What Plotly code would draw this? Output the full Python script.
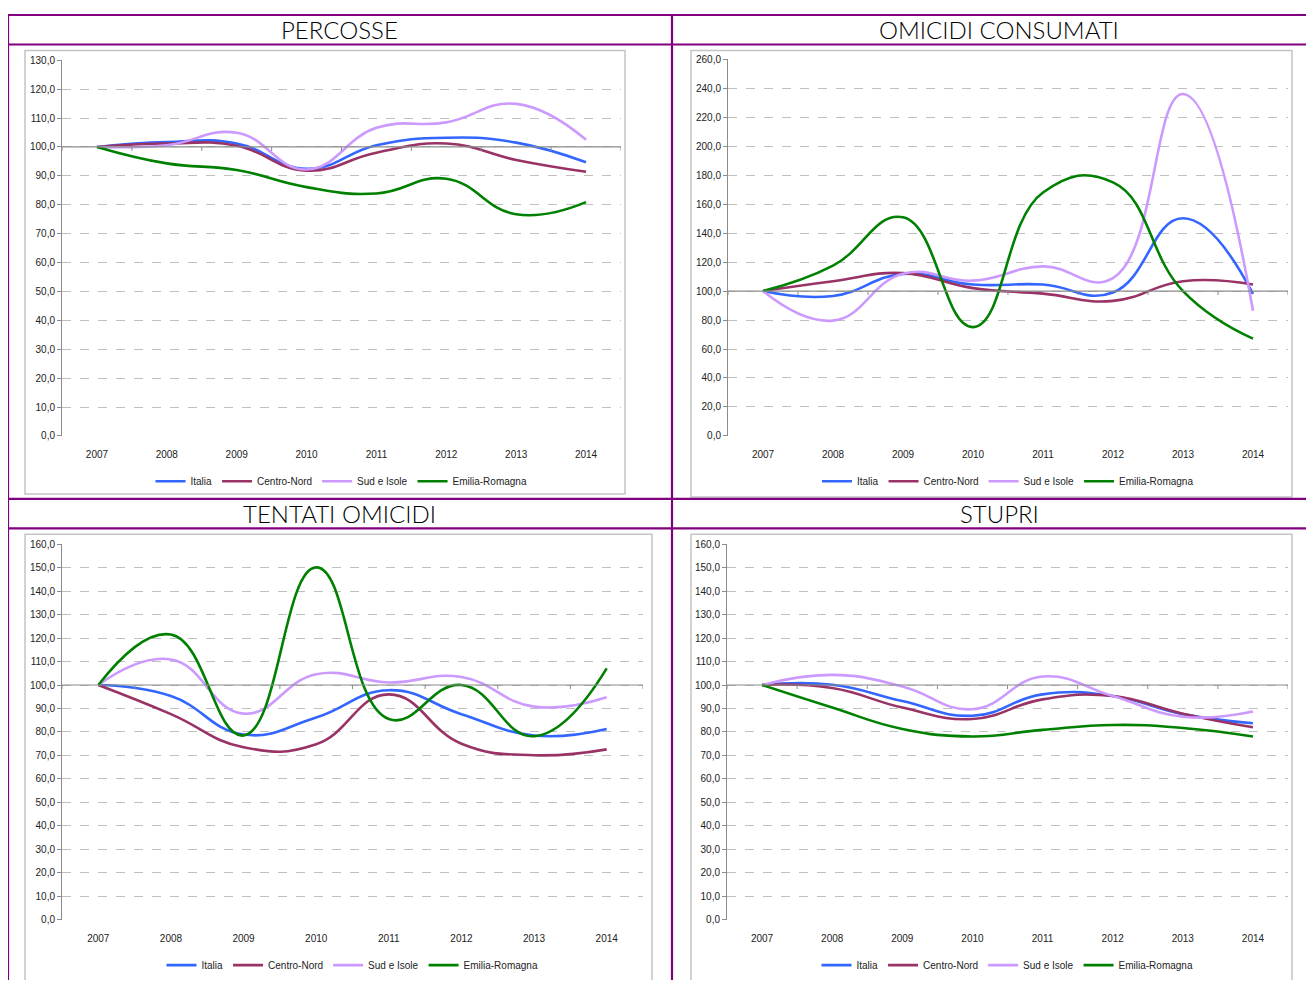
import plotly.graph_objects as go

# ---------------- data ----------------
years = ["2007", "2008", "2009", "2010", "2011", "2012", "2013", "2014"]
series_names = ["Italia", "Centro-Nord", "Sud e Isole", "Emilia-Romagna"]

percosse_italia = [100.0, 101.7, 101.2, 92.4, 100.6, 103.2, 101.5, 94.7]
percosse_centro_nord = [100.0, 101.2, 100.4, 91.8, 98.0, 101.2, 95.5, 91.4]
percosse_sud_isole = [100.0, 100.6, 104.9, 92.2, 106.6, 108.5, 114.9, 102.5]
percosse_emilia = [100.0, 94.3, 92.0, 86.1, 83.9, 89.0, 76.7, 80.9]

omicidi_italia = [100.0, 96.6, 111.8, 104.5, 104.5, 99.0, 150.2, 98.0]
omicidi_centro_nord = [100.0, 106.8, 112.4, 102.0, 98.2, 93.2, 106.8, 104.5]
omicidi_sud_isole = [100.0, 79.6, 112.0, 107.2, 117.0, 109.0, 236.0, 86.4]
omicidi_emilia = [100.0, 117.5, 150.9, 75.1, 168.0, 175.0, 100.0, 67.2]

tentati_italia = [100.0, 95.3, 78.9, 86.2, 97.8, 87.6, 78.5, 81.3]
tentati_centro_nord = [100.0, 87.6, 73.5, 74.8, 96.0, 75.0, 70.1, 72.6]
tentati_sud_isole = [100.0, 110.9, 87.8, 104.6, 101.1, 103.4, 90.8, 94.8]
tentati_emilia = [100.0, 121.5, 78.5, 150.1, 85.5, 100.0, 78.2, 107.1]

stupri_italia = [100.0, 100.1, 93.2, 86.9, 96.0, 95.3, 87.6, 83.7]
stupri_centro_nord = [100.0, 98.7, 90.4, 85.5, 93.9, 95.3, 87.8, 82.0]
stupri_sud_isole = [100.0, 104.3, 99.4, 89.7, 103.6, 95.3, 86.5, 88.7]
stupri_emilia = [100.0, 90.4, 81.3, 78.1, 80.9, 83.0, 81.7, 78.1]

titles = ["PERCOSSE", "OMICIDI CONSUMATI", "TENTATI OMICIDI", "STUPRI"]
y_max = [130, 260, 160, 160]
y_step = [10, 20, 10, 10]
base_value = 100

# ---------------- styles / layout ----------------
colors = ["#3366FF", "#993366", "#CC99FF", "#008000"]
PAGE_MARGIN = 8                       # default body margin of the html page
W, H = 1314 - 2 * PAGE_MARGIN, 988 - 2 * PAGE_MARGIN
PURPLE = "#800080"
AXIS_GREY = "#8C8C8C"
GRID_GREY = "#C0C0C0"
BOX_GREY = "#C4C4C4"
FONT = "Liberation Sans, Arial, sans-serif"


def px(x):
    return (x - PAGE_MARGIN) / W


def py(y):
    return 1 - (y - PAGE_MARGIN) / H


panel_data = [
    [percosse_italia, percosse_centro_nord, percosse_sud_isole, percosse_emilia],
    [omicidi_italia, omicidi_centro_nord, omicidi_sud_isole, omicidi_emilia],
    [tentati_italia, tentati_centro_nord, tentati_sud_isole, tentati_emilia],
    [stupri_italia, stupri_centro_nord, stupri_sud_isole, stupri_emilia],
]

# pixel geometry (page coordinates): plot area (x0, x1, ytop, ybottom), grey box, title centre, legend y
plot_px = [(62, 621, 55, 437), (728, 1288, 54, 437), (62, 643, 547, 929), (727, 1288, 547, 929)]
box_px = [(25, 625, 45, 496), (691, 1292, 45, 499), (25, 652, 537, 1000), (691, 1292, 537, 1000)]
title_px = [(339.5, 24), (999, 24), (339.5, 516), (999, 516)]
legend_py = [483, 483, 975, 975]

fig = go.Figure()
shapes = []
annotations = []
layout_extra = {}

xi = list(range(len(years)))

for p in range(4):
    ax = "" if p == 0 else str(p + 1)
    xa, ya = "x" + ax, "y" + ax
    leg = "legend" if p == 0 else "legend" + str(p + 1)
    for s in range(4):
        fig.add_trace(go.Scatter(
            x=xi, y=panel_data[p][s], mode="lines", name=series_names[s],
            line=dict(color=colors[s], width=2.6, shape="spline", smoothing=1.3),
            xaxis=xa, yaxis=ya, legend=leg, hoverinfo="skip",
        ))
    x0, x1, yt, yb = plot_px[p]
    layout_extra["xaxis" + ax] = dict(
        domain=[px(x0), px(x1)], anchor=ya, range=[-0.5, len(years) - 0.5],
        tickmode="array", tickvals=xi, ticktext=years,
        showgrid=False, zeroline=False, showline=False,
        ticks="outside", ticklen=9, tickcolor="rgba(0,0,0,0)",
        tickfont=dict(family=FONT, size=10, color="#222222"),
    )
    layout_extra["yaxis" + ax] = dict(
        domain=[py(yb), py(yt)], anchor=xa, range=[0, y_max[p]],
        tickmode="linear", tick0=0, dtick=y_step[p], tickformat=".1f",
        showgrid=True, gridcolor=GRID_GREY, griddash="dash", gridwidth=1,
        zeroline=False, showline=True, linecolor=AXIS_GREY, linewidth=1,
        ticks="outside", ticklen=4, tickcolor=AXIS_GREY,
        tickfont=dict(family=FONT, size=10, color="#222222"),
    )
    # category axis line crossing at the base value, with boundary ticks
    shapes.append(dict(type="line", xref=xa + " domain", yref=ya, x0=0, x1=1,
                       y0=base_value, y1=base_value, line=dict(color=AXIS_GREY, width=1.2),
                       layer="above"))
    for k in range(len(years) + 1):
        shapes.append(dict(type="line", xref=xa, yref=ya, ysizemode="pixel",
                           yanchor=base_value, x0=k - 0.5, x1=k - 0.5, y0=0, y1=-4,
                           line=dict(color=AXIS_GREY, width=1)))
    # chart box
    bx0, bx1, by0, by1 = box_px[p]
    shapes.append(dict(type="rect", xref="paper", yref="paper",
                       x0=px(bx0), x1=px(bx1), y0=py(by1), y1=py(by0),
                       line=dict(color=BOX_GREY, width=1.5), layer="below"))
    # legend
    layout_extra[leg] = dict(
        orientation="h", x=px((x0 + x1) / 2), xanchor="center",
        y=py(legend_py[p]), yanchor="middle",
        font=dict(family=FONT, size=10, color="#222222"),
        bgcolor="rgba(0,0,0,0)", itemwidth=30, tracegroupgap=0,
    )
    # title
    tx, ty = title_px[p]
    annotations.append(dict(text=titles[p], xref="paper", yref="paper",
                            x=px(tx), y=py(ty), xanchor="center", yanchor="middle",
                            showarrow=False,
                            font=dict(family="Lato, Open Sans, sans-serif", size=24,
                                      color="#000000", weight=300)))

# purple table grid
for yy in [9, 39, 501, 531]:
    shapes.append(dict(type="line", xref="paper", yref="paper", x0=px(7), x1=px(1330),
                       y0=py(yy), y1=py(yy), line=dict(color=PURPLE, width=2.2)))
for xx in [8, 672]:
    shapes.append(dict(type="line", xref="paper", yref="paper", x0=px(xx), x1=px(xx),
                       y0=py(9), y1=py(1000), line=dict(color=PURPLE, width=2.2)))

fig.update_layout(
    width=W, height=H, margin=dict(l=0, r=0, t=0, b=0),
    paper_bgcolor="white", plot_bgcolor="white",
    separators=",.", showlegend=True,
    shapes=shapes, annotations=annotations,
    **layout_extra,
)

fig.write_html("out.html")
